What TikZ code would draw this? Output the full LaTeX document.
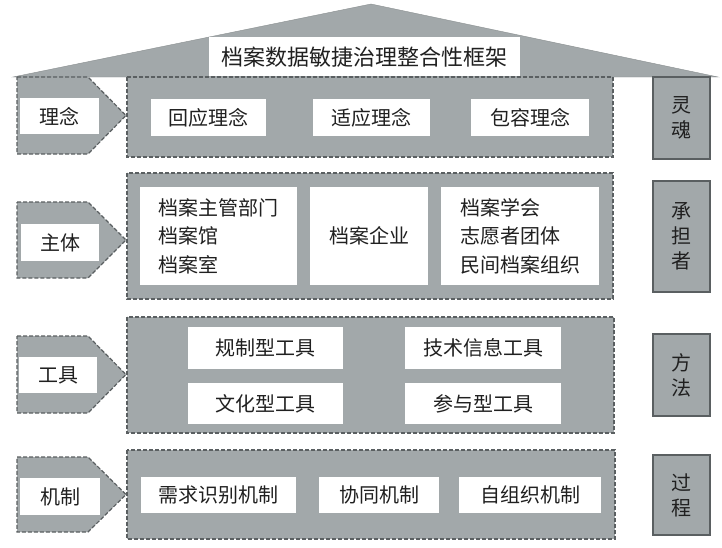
\documentclass[tikz,border=0pt]{standalone}
\usepackage{fontspec}
\setmainfont{Noto Sans CJK SC}
\definecolor{framegray}{HTML}{A2A8AA}
\definecolor{edgegray}{HTML}{5A5F61}
\definecolor{inkgray}{HTML}{202020}

\begin{document}
\begin{tikzpicture}[x=1pt,y=-1pt,
		every node/.style={text=inkgray, inner sep=0pt, font=\fontsize{20}{28.5}\selectfont},
		layer/.style={draw=edgegray, line width=1.2pt, dash pattern=on 4pt off 2pt, fill=framegray},
		sidebox/.style={draw=edgegray, line width=1.2pt, fill=framegray}]
		\useasboundingbox (0,0) rectangle (722,547);
		\filldraw[fill=framegray, draw=framegray!85!black, thin] (13,77) -- (371,4) -- (718,77) -- cycle;
		\fill[white] (209,37) rectangle (520,76);
		\node (title) at (364.5,57) {\fontsize{22}{26}\selectfont 档案数据敏捷治理整合性框架};
		\foreach \ya/\yb in {77/154, 202/278, 336/413, 457/532}
			\draw[layer] (17,\ya) -- (88,\ya) -- (126,{(\ya+\yb)/2}) -- (88,\yb) -- (17,\yb) -- cycle;
		\draw[layer] (127,77) rectangle (613,157);
		\draw[layer] (127,173) rectangle (613,299);
		\draw[layer] (127,317) rectangle (614,433);
		\draw[layer] (127,450) rectangle (615,539);
		\foreach \xa/\ya/\xb/\yb/\n/\txt in {
				20/98/99/134/idea/理念, 21/224/99/261/actor/主体,
				19/357/97/393/tool/工具, 20/478/100/515/mech/机制,
				151/99/266/136/resp/回应理念, 313/99/430/136/adapt/适应理念,
				471/99/589/136/incl/包容理念,
				140/187/297/285/gov/{档案主管部门\\档案馆\\档案室},
				310/187/428/285/firm/档案企业,
				441/187/599/285/soc/{档案学会\\志愿者团体\\民间档案组织},
				188/327/343/369/reg/规制型工具, 405/327/561/369/tech/技术信息工具,
				188/383/343/424/cult/文化型工具, 405/383/561/424/part/参与型工具,
				141/477/296/513/need/需求识别机制, 319/477/439/513/coop/协同机制,
				459/477/601/513/self/自组织机制}{
			\fill[white] (\xa,\ya) rectangle (\xb,\yb);
			\node[align=left] (\n) at ({(\xa+\xb)/2},{(\ya+\yb)/2}) {\txt};
		}
		\foreach \ya/\yb/\n/\txt in {77/159/soul/{灵\\魂}, 181/292/bearer/{承\\担\\者},
				334/416/method/{方\\法}, 455/535/process/{过\\程}}{
			\draw[sidebox] (653,\ya) rectangle (710,\yb);
			\node[align=center, font=\fontsize{20}{25}\selectfont] (\n) at (681.5,{(\ya+\yb)/2}) {\txt};
		}
	\end{tikzpicture}
\end{document}
